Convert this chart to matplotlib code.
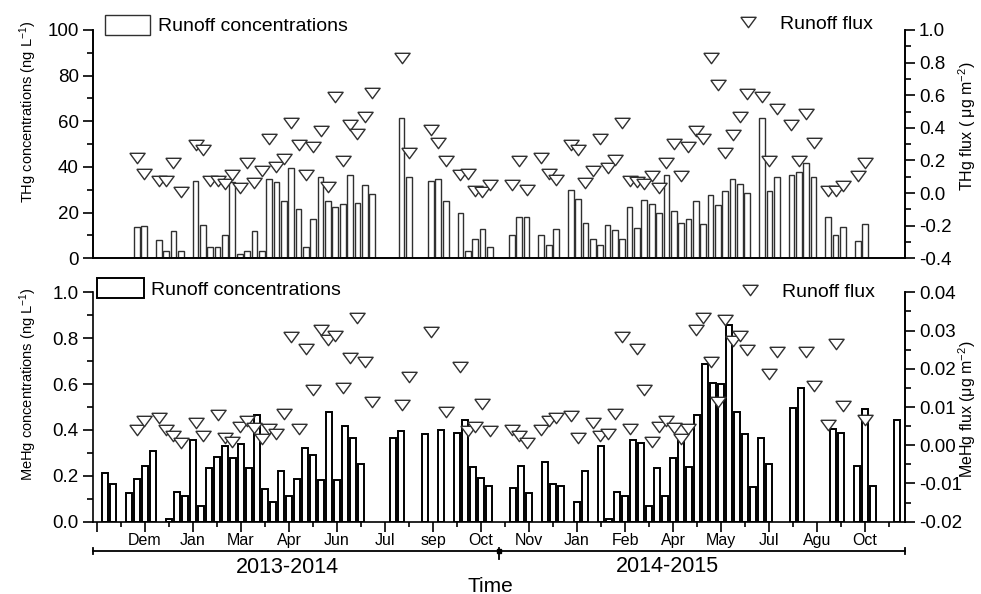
import numpy as np
import matplotlib.pyplot as plt
from matplotlib.patches import Patch
from matplotlib.lines import Line2D
from matplotlib.ticker import MultipleLocator, FormatStrFormatter

plt.rcParams['font.family'] = ['Liberation Sans', 'DejaVu Sans']
plt.rcParams['mathtext.fontset'] = 'custom'
plt.rcParams['mathtext.rm'] = 'Liberation Sans'
plt.rcParams['mathtext.default'] = 'regular'

# THg (painel superior): numero da amostra, concentracao (ng/L), fluxo (ug/m2)
thg_slot = [0, 1, 3, 4, 5, 6, 8, 9, 10, 11, 12, 13, 14, 15, 16, 17, 18, 19, 20,
            21, 22, 23, 24, 25, 26, 27, 28, 29, 30, 31, 32, 36, 37, 40, 41, 42,
            44, 45, 46, 47, 48, 51, 52, 53, 55, 56, 57, 59, 60, 61, 62, 63, 64,
            65, 66, 67, 68, 69, 70, 71, 72, 73, 74, 75, 76, 77, 78, 79, 80, 81,
            82, 83, 85, 86, 87, 89, 90, 91, 92, 94, 95, 96, 98, 99]
thg_conc = [13.9, 14.2, 8.0, 3.4, 11.8, 3.4, 34.0, 14.7, 4.8, 4.8, 10.4, 33.6,
            1.9, 3.4, 11.8, 3.4, 34.9, 33.3, 25.0, 39.4, 21.8, 4.8, 17.1, 35.8,
            25.0, 22.6, 23.8, 36.4, 24.1, 32.3, 28.2, 61.3, 35.8, 33.7, 34.6,
            25.0, 20.0, 3.1, 8.3, 12.7, 4.8, 10.1, 18.2, 18.2, 10.1, 6.0, 13.0,
            29.9, 25.8, 15.3, 8.3, 6.0, 14.5, 12.4, 8.3, 22.3, 13.3, 25.5, 23.8,
            19.7, 36.4, 20.6, 15.3, 17.4, 25.0, 15.0, 27.6, 23.5, 29.6, 34.6,
            32.6, 28.5, 61.5, 29.3, 35.8, 36.6, 37.8, 41.6, 35.5, 18.0, 10.4,
            13.6, 7.4, 15.0]
thg_flux = [0.213, 0.117, 0.076, 0.076, 0.183, 0.007, 0.295, 0.264, 0.076,
            0.076, 0.056, 0.113, 0.031, 0.183, 0.064, 0.137, 0.330, 0.158,
            0.207, 0.428, 0.297, 0.109, 0.284, 0.379, 0.035, 0.587, 0.198,
            0.417, 0.362, 0.468, 0.612, 0.826, 0.244, 0.387, 0.309, 0.198,
            0.109, 0.117, 0.015, 0.008, 0.048, 0.048, 0.198, 0.019, 0.215,
            0.117, 0.080, 0.297, 0.264, 0.060, 0.133, 0.330, 0.154, 0.203,
            0.428, 0.076, 0.068, 0.056, 0.107, 0.029, 0.183, 0.299, 0.107,
            0.284, 0.382, 0.332, 0.826, 0.663, 0.244, 0.358, 0.468, 0.607,
            0.587, 0.198, 0.517, 0.417, 0.198, 0.485, 0.309, 0.015, 0.015,
            0.045, 0.107, 0.183]

# MeHg (painel inferior): barras e fluxo
mehg_bar_slot = [0, 1, 3, 4, 5, 6, 8, 9, 10, 11, 12, 13, 14, 15, 16, 17, 18, 19,
                 20, 21, 22, 23, 24, 25, 26, 27, 28, 29, 30, 31, 32, 36, 37, 40,
                 42, 44, 45, 46, 47, 48, 51, 52, 53, 55, 56, 57, 59, 60, 62, 63,
                 64, 65, 66, 67, 68, 69, 70, 71, 72, 73, 74, 75, 76, 77, 78, 79,
                 80, 81, 82, 83, 86, 87, 91, 92, 94, 95, 96, 99]
mehg_conc = [0.211, 0.163, 0.125, 0.186, 0.241, 0.308, 0.010, 0.131, 0.113,
             0.358, 0.067, 0.233, 0.282, 0.328, 0.276, 0.337, 0.235, 0.465,
             0.142, 0.084, 0.221, 0.110, 0.186, 0.323, 0.291, 0.180, 0.477,
             0.180, 0.416, 0.366, 0.253, 0.363, 0.397, 0.384, 0.401, 0.387,
             0.442, 0.240, 0.192, 0.157, 0.145, 0.241, 0.125, 0.259, 0.163,
             0.157, 0.084, 0.221, 0.328, 0.012, 0.131, 0.113, 0.356, 0.342,
             0.070, 0.233, 0.113, 0.279, 0.363, 0.238, 0.465, 0.686, 0.603,
             0.600, 0.858, 0.480, 0.381, 0.153, 0.363, 0.253, 0.494, 0.581,
             0.404, 0.387, 0.241, 0.491, 0.157, 0.443]
mehg_flux_slot = [0, 1, 3, 4, 5, 6, 8, 9, 11, 12, 13, 14, 15, 16, 17, 18, 19, 20,
                  21, 22, 23, 24, 25, 26, 27, 28, 29, 30, 31, 32, 36, 37, 40, 42,
                  44, 45, 46, 47, 48, 51, 52, 53, 55, 56, 57, 59, 60, 62, 63, 64,
                  65, 66, 67, 68, 69, 70, 71, 72, 73, 74, 75, 76, 77, 78, 79, 80,
                  81, 82, 83, 86, 87, 91, 92, 94, 95, 96, 99]
mehg_flux = [0.0039, 0.0063, 0.0072, 0.0039, 0.0025, 0.0006, 0.0058, 0.0025,
             0.0079, 0.0018, 0.0008, 0.0048, 0.0063, 0.0046, 0.0015, 0.0043,
             0.0029, 0.0081, 0.0283, 0.0043, 0.0252, 0.0145, 0.0302, 0.0275,
             0.0285, 0.0149, 0.0227, 0.0332, 0.0217, 0.0114, 0.0105, 0.0179,
             0.0295, 0.0086, 0.0205, 0.0037, 0.0048, 0.0107, 0.0037, 0.0039,
             0.0023, 0.0005, 0.0039, 0.0063, 0.0072, 0.0077, 0.0018, 0.0058,
             0.0024, 0.0029, 0.0081, 0.0283, 0.0043, 0.0252, 0.0145, 0.0008,
             0.0048, 0.0063, 0.0046, 0.0015, 0.0043, 0.0302, 0.0332, 0.0217,
             0.0114, 0.0328, 0.0273, 0.0287, 0.0248, 0.0186, 0.0243, 0.0243,
             0.0156, 0.0053, 0.0266, 0.0103, 0.0065]

month_labels = ['Dem', 'Jan', 'Mar', 'Apr', 'Jun', 'Jul', 'sep', 'Oct',
                'Nov', 'Jan', 'Feb', 'Apr', 'May', 'Jul', 'Agu', 'Oct']
period_labels = ['2013-2014', '2014-2015']

# Layout em pixels
W, H = 981, 594
def rect(x0, y0, x1, y1):
    return [x0 / W, 1 - y1 / H, (x1 - x0) / W, (y1 - y0) / H]

fig = plt.figure(figsize=(W / 100, H / 100), dpi=100)
ax1 = fig.add_axes(rect(92.7, 30, 905, 258.3))
ax2 = fig.add_axes(rect(92.7, 292.3, 905, 521.7))
ax1r = ax1.twinx()
ax2r = fig.add_axes(ax2.get_position(), sharex=ax1)

tri = [(-1, 0.68), (1, 0.68), (0, -0.68), (-1, 0.68)]
ec = '#303030'
mk = dict(linestyle='none', marker=tri, ms=11, mfc='white', mec=ec, mew=1.0)

ax1.bar(thg_slot, thg_conc, width=0.78, color='white', edgecolor=ec, linewidth=1.0)
ax1r.plot(thg_slot, thg_flux, **mk)
ax2.bar(mehg_bar_slot, mehg_conc, width=0.72, color='white', edgecolor='black', linewidth=1.4)
ax2r.plot(mehg_flux_slot, mehg_flux, **mk)

ax1.set_xlim(-5.98, 104.43)
ax2.set_xlim(-1.54, 100.0)
ax1.set_ylim(0, 100)
ax1r.set_ylim(-0.4, 1.0)
ax2.set_ylim(0, 1.0)
ax2r.set_ylim(-0.02, 0.04)

for a in (ax1, ax1r, ax2, ax2r):
    a.spines['top'].set_visible(False)
    for s in a.spines.values():
        s.set_linewidth(1.2)
for a in (ax1r, ax2r):
    a.patch.set_visible(False)
ax2r.spines['left'].set_visible(False)
ax2r.spines['bottom'].set_visible(False)
ax2r.yaxis.tick_right()
ax2r.yaxis.set_label_position('right')

ax1.tick_params(axis='x', bottom=False, labelbottom=False)
ax2r.tick_params(axis='x', bottom=False, labelbottom=False)

ax1.yaxis.set_major_locator(MultipleLocator(20))
ax1.yaxis.set_minor_locator(MultipleLocator(10))
ax1r.yaxis.set_major_locator(MultipleLocator(0.2))
ax1r.yaxis.set_minor_locator(MultipleLocator(0.1))
ax1r.yaxis.set_major_formatter(FormatStrFormatter('%.1f'))
ax2.yaxis.set_major_locator(MultipleLocator(0.2))
ax2.yaxis.set_minor_locator(MultipleLocator(0.1))
ax2.yaxis.set_major_formatter(FormatStrFormatter('%.1f'))
ax2r.yaxis.set_major_locator(MultipleLocator(0.01))
ax2r.yaxis.set_minor_locator(MultipleLocator(0.005))
ax2r.yaxis.set_major_formatter(FormatStrFormatter('%.2f'))

for a in (ax1, ax1r, ax2, ax2r):
    a.tick_params(axis='y', which='major', direction='out', length=7, width=1.2, labelsize=13.5, pad=3)
    a.tick_params(axis='y', which='minor', direction='out', length=4, width=1.2)

# eixo x inferior: marcas a cada 3 amostras
xt = np.arange(34) * 3 - 1
ax2.set_xticks(xt[::2])
ax2.set_xticklabels([''] + month_labels)
ax2.set_xticks(xt[1::2], minor=True)
ax2.tick_params(axis='x', which='major', direction='out', length=7.5, width=1.2, labelsize=11.5, pad=0.5)
ax2.tick_params(axis='x', which='minor', direction='out', length=3.5, width=1.2)

ax1.set_ylabel('THg concentrations (ng L$^{-1}$)', fontsize=10.5)
ax1.yaxis.set_label_coords(-0.066, 0.64)
ax2.set_ylabel('MeHg concentrations (ng L$^{-1}$)', fontsize=10.5)
ax2.yaxis.set_label_coords(-0.066, 0.60)
ax1r.set_ylabel('THg flux ( \u03bcg m$^{-2}$)', fontsize=11.5)
ax1r.yaxis.set_label_coords(1.063, 0.58)
ax2r.set_ylabel('MeHg flux (\u03bcg m$^{-2}$)', fontsize=11.5)
ax2r.yaxis.set_label_coords(1.063, 0.49)

# legendas
def leg(handle, label, x, y, hl, hh, pad):
    fig.legend([handle], [label], loc='center left', bbox_to_anchor=(x / W, 1 - y / H),
               frameon=False, borderpad=0, borderaxespad=0, fontsize=14,
               handlelength=hl, handleheight=hh, handletextpad=pad, numpoints=1)

box = Patch(facecolor='white', edgecolor=ec, linewidth=1.0)
box2 = Patch(facecolor='white', edgecolor='black', linewidth=1.4)
flux_h = Line2D([], [], **mk)
leg(box, 'Runoff concentrations', 105, 25, 2.3, 1.25, 0.4)
leg(flux_h, 'Runoff flux', 729, 24, 2.0, 0.7, 0.6)
leg(box2, 'Runoff concentrations', 97, 288.5, 2.4, 1.15, 0.4)
leg(flux_h, 'Runoff flux', 731, 292, 2.0, 0.7, 0.6)

# chave dos periodos abaixo do eixo
yb = -0.1264
ax2.plot([0, 1], [yb, yb], color='black', lw=1.3, transform=ax2.transAxes, clip_on=False)
for xb, dy in [(0, 0.013), (0.5, 0.035), (1, 0.013)]:
    ax2.plot([xb, xb], [yb + 0.013, yb - dy], color='black', lw=1.3,
             transform=ax2.transAxes, clip_on=False)
ax2.plot([0.5], [yb], marker='s', ms=3, color='black', transform=ax2.transAxes, clip_on=False)
ax2.text(0.240, -0.200, period_labels[0], transform=ax2.transAxes, ha='center', va='center', fontsize=15.5)
ax2.text(0.708, -0.197, period_labels[1], transform=ax2.transAxes, ha='center', va='center', fontsize=15.5)
ax2.text(0.490, -0.282, 'Time', transform=ax2.transAxes, ha='center', va='center', fontsize=15)

fig.savefig('out.png', dpi=100)
